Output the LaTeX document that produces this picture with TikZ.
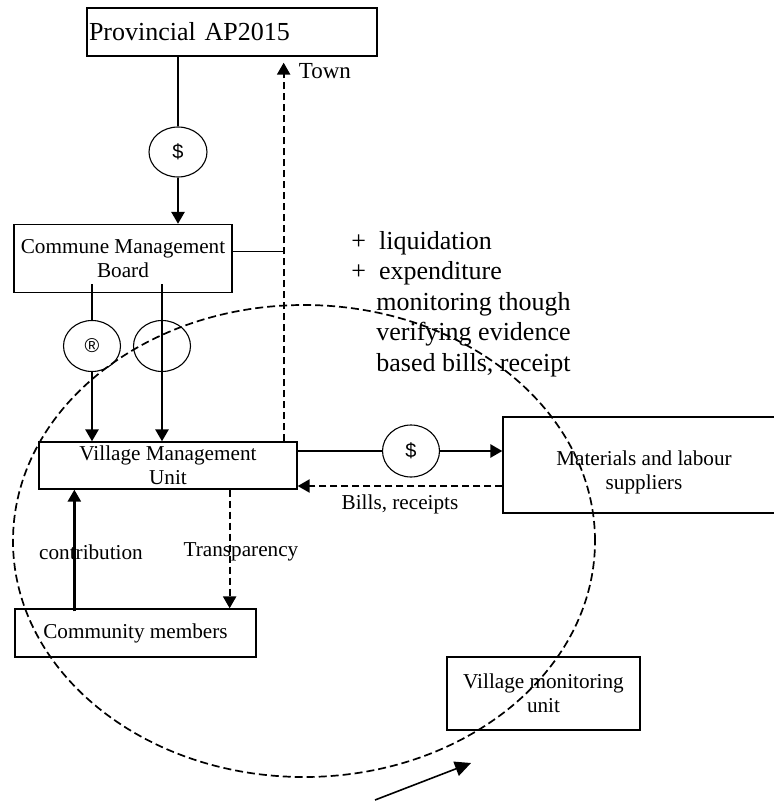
\documentclass[tikz,border=0pt]{standalone}
\usepackage{fontspec}
\setmainfont{Liberation Serif}
\newfontfamily\arialfont{Liberation Sans}
\usetikzlibrary{shapes.geometric,arrows.meta}

\tikzset{
  box/.style = {draw, line width=0.65pt, inner sep=0pt, align=center,
    font=\fontsize{10.6}{12}\selectfont},
  money/.style = {draw, ellipse, line width=0.55pt, inner sep=0pt,
    minimum width=29pt, minimum height=25pt, font=\arialfont\fontsize{10}{12}\selectfont},
  flow/.style = {line width=1.3pt, -{Triangle[length=6pt,width=6.5pt]}},
  dashflow/.style = {flow, line width=1.15pt, dash pattern=on 3.5pt off 2pt},
  lbl/.style = {font=\fontsize{10.6}{12}\selectfont, inner sep=0pt}
}

\begin{document}
\begin{tikzpicture}[x=0.5pt, y=-0.5pt]
    \clip (0,0) rectangle (774,803);

    \node[box, align=left, text width=143pt, inner xsep=1pt, minimum height=24pt,
      font=\fontsize{13}{15}\selectfont](provincial) at (232,32) {Provincial AP2015};
    \node[money](dollarTop) at (178,152) {\$};
    \node[box, minimum width=109pt, minimum height=34pt](commune) at (123,258.5) {Commune Management\\Board};
    \node[money, minimum width=28.5pt, minimum height=25.5pt](registered) at (92,346) {\textregistered};
    \node[money, minimum width=28.5pt, minimum height=25.5pt](blank) at (162,346) {};
    \node[box, minimum width=129pt, minimum height=23.5pt](village) at (168,465.5) {Village Management\\Unit};
    \node[money, minimum width=28.5pt, minimum height=26pt](dollarMid) at (411,451) {\$};
    \node[box, minimum width=141pt, minimum height=48pt](suppliers) at (644,465)
      {\raisebox{-3.5pt}[\height][\depth]{\parbox{141pt}{\centering Materials and labour\\suppliers}}};
    \node[box, minimum width=120.5pt, minimum height=24pt](community) at (135.5,633) {Community members};
    \node[box, minimum width=96.5pt, minimum height=36.5pt](monitoring) at (543.5,693.5) {Village monitoring\\unit};

    % notes beside the town line
    \node[anchor=west, align=left, inner sep=0pt, font=\fontsize{13}{15.3}\selectfont](notes) at (351,304)
      {+\enspace liquidation\\ +\enspace expenditure\\ \hspace*{12.5pt}monitoring though\\
       \hspace*{12.5pt}verifying evidence\\ \hspace*{12.5pt}based bills, receipt};

    \coordinate (townLine) at ([xshift=-7pt]village.north east);

    \draw [line width=1.3pt] (dollarTop.north |- provincial.south) -- (dollarTop.north);
    \draw [flow] (dollarTop.south) -- (dollarTop.south |- commune.north);
    \draw [line width=1.3pt] ([yshift=4.5pt]registered.north |- commune.south) -- (registered.north);
    \draw [flow] (registered.south) -- (registered.south |- village.north);
    \draw [flow] ([yshift=4.5pt]blank.north |- commune.south) -- (blank.south |- village.north);

    \draw [dashflow, shorten >=3pt] (townLine) -- (townLine |- provincial.south)
      node[lbl, pos=1, anchor=west, xshift=7pt, yshift=-7pt, font=\fontsize{11.5}{13}\selectfont]{Town};
    \draw [line width=0.55pt] ([yshift=3.5pt]commune.east) -- ([yshift=3.5pt]commune.east -| townLine);

    \draw [line width=1.3pt] (dollarMid.west -| village.east) -- (dollarMid.west);
    \draw [flow] (dollarMid.east) -- (dollarMid.east -| suppliers.west);
    \draw [dashflow] ([yshift=-10.5pt]suppliers.west) -- ([yshift=-10.5pt]suppliers.west -| village.east)
      node[lbl, midway, below=4pt]{Bills, receipts};

    \draw [flow] ([xshift=30pt,yshift=-1.5pt]community.north west) -- ([xshift=30pt]community.north west |- village.south);
    \draw [dashflow] ([xshift=-34pt]village.south east) -- ([xshift=-34pt]village.south east |- community.north);
    \node[lbl](contribution) at (91,552) {contribution};
    \node[lbl](transparency) at (241,552) {Transparency};

    % monitoring circle
    \draw [line width=0.85pt, dash pattern=on 4pt off 2pt] (304,541) ellipse [x radius=145.5pt, y radius=118pt];

    \coordinate (pointerTail) at (375,800);
    \coordinate (pointerTip) at (471,763);
    \draw [line width=0.8pt, -{Triangle[length=8pt,width=7.5pt]}] (pointerTail) -- (pointerTip);
\end{tikzpicture}
\end{document}
